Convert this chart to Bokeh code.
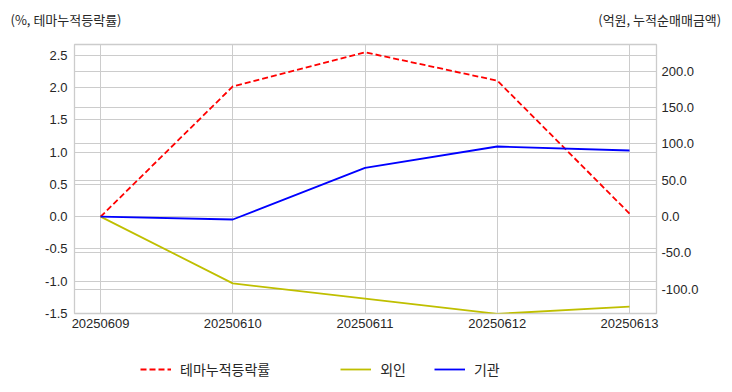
from bokeh.plotting import figure
from bokeh.layouts import column
from bokeh.models import (Range1d, LinearAxis, FixedTicker, PrintfTickFormatter, Grid,
                          Legend, LegendItem, Title)
from bokeh.embed import file_html
from bokeh.resources import INLINE

dates = ["20250609", "20250610", "20250611", "20250612", "20250613"]
theme_ret = [0.0, 2.02, 2.55, 2.11, 0.05]
foreign = [0.0, -92.0, -113.0, -134.0, -124.0]
inst = [0.0, -4.0, 67.0, 96.5, 91.0]
left_ticks = [-1.5, -1.0, -0.5, 0.0, 0.5, 1.0, 1.5, 2.0, 2.5]
right_ticks = [-100, -50, 0, 50, 100, 150, 200]
left_title = "(%, 테마누적등락률)"
right_title = "(억원, 누적순매매금액)"
series_names = ["테마누적등락률", "외인", "기관"]
series_colors = ["#ff0000", "#bfbf00", "#0000ff"]
series_dash = ["6 3", "solid", "solid"]

xs = list(range(len(dates)))
FONT = "Liberation Sans, Noto Sans CJK KR"
KFONT = "Noto Sans CJK KR"
TXT = "#262626"
GRID = "#cccccc"
W = 732

# ---------- header strip with the two axis captions ----------
hdr = figure(width=W, height=40, output_backend="svg", toolbar_location=None,
             x_range=Range1d(0, 1), y_range=Range1d(0, 1),
             x_axis_type=None, y_axis_type=None,
             min_border_left=74, min_border_right=76, min_border_top=0, min_border_bottom=0)
hdr.outline_line_color = None
hdr.grid.visible = False
caption = left_title + "\u3000" * 36 + "\u00a0\u00a0\u00a0" + right_title
hdr.add_layout(Title(text=caption, align="left", offset=-64, standoff=16,
                     vertical_align="middle", text_font=KFONT, text_font_size="13px",
                     text_font_style="normal", text_color=TXT), "above")

# ---------- main chart ----------
p = figure(width=W, height=298, output_backend="svg", toolbar_location=None,
           x_range=Range1d(-0.197, len(dates) - 1 + 0.204),
           y_range=Range1d(-1.5, 2.67),
           min_border_left=74, min_border_right=76, min_border_top=4, min_border_bottom=25)
p.extra_y_ranges = {"r": Range1d(-133.5, 237.0)}
p.outline_line_color = GRID
p.outline_line_width = 1.3

def style_axis(ax, standoff):
    ax.axis_line_color = None
    ax.major_tick_line_color = None
    ax.minor_tick_line_color = None
    ax.major_tick_out = 0
    ax.major_tick_in = 0
    ax.minor_tick_out = 0
    ax.minor_tick_in = 0
    ax.major_label_standoff = standoff
    ax.major_label_text_font = FONT
    ax.major_label_text_font_size = "13px"
    ax.major_label_text_color = TXT

p.xaxis.ticker = FixedTicker(ticks=xs)
p.xaxis.major_label_overrides = {i: d for i, d in enumerate(dates)}
style_axis(p.xaxis[0], 5)

p.yaxis.ticker = FixedTicker(ticks=left_ticks)
p.yaxis.formatter = PrintfTickFormatter(format="%.1f")
style_axis(p.yaxis[0], 7)

raxis = LinearAxis(y_range_name="r", ticker=FixedTicker(ticks=right_ticks),
                   formatter=PrintfTickFormatter(format="%.1f"))
style_axis(raxis, 5)
p.add_layout(raxis, "right")

p.xgrid.ticker = FixedTicker(ticks=xs)
p.xgrid.grid_line_color = GRID
p.ygrid.grid_line_color = GRID
p.ygrid.ticker = FixedTicker(ticks=left_ticks)
rgrid = Grid(dimension=1, y_range_name="r", ticker=FixedTicker(ticks=right_ticks),
             grid_line_color=GRID)
p.add_layout(rgrid, "center")

p.line(xs, theme_ret, line_color=series_colors[0], line_width=1.8, line_dash=series_dash[0])
p.line(xs, foreign, y_range_name="r", line_color=series_colors[1], line_width=1.8)
p.line(xs, inst, y_range_name="r", line_color=series_colors[2], line_width=1.8)

# ---------- legend strip below ----------
lf = figure(width=W, height=54, output_backend="svg", toolbar_location=None,
            x_range=Range1d(0, 1), y_range=Range1d(0, 1),
            x_axis_type=None, y_axis_type=None,
            min_border_left=74, min_border_right=76, min_border_top=0, min_border_bottom=0)
lf.outline_line_color = None
lf.grid.visible = False
# legend keys: placeholder lines kept outside the strip's visible range
keys = [lf.line([-3, -2], [-3, -2], line_color=c, line_width=1.8, line_dash=d)
        for c, d in zip(series_colors, series_dash)]
labels = [series_names[0] + "\u3000\u3000\u3000", series_names[1], series_names[2]]
lg = Legend(items=[LegendItem(label=t, renderers=[k]) for t, k in zip(labels, keys)],
            location=(66, 13), orientation="horizontal",
            padding=0, margin=0, spacing=28, glyph_width=31, glyph_height=20,
            label_standoff=9, label_text_font=KFONT, label_text_font_size="14px",
            label_text_color=TXT, border_line_color=None, background_fill_alpha=0)
lf.add_layout(lg, "center")

open("out.html", "w").write(file_html(column(hdr, p, lf, spacing=0), INLINE))
